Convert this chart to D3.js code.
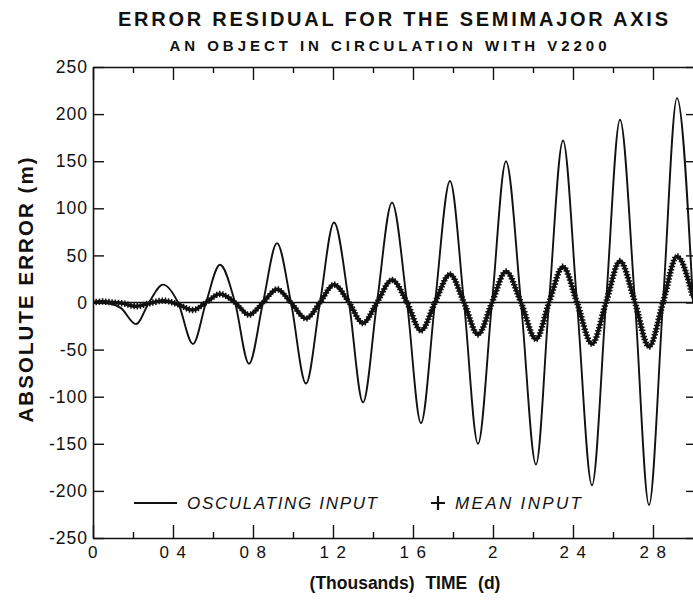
<!DOCTYPE html>
<html><head><meta charset="utf-8">
<script src="https://cdn.jsdelivr.net/npm/d3@7"></script>
<style>
body{margin:0;background:#fff}
svg{display:block}
text{font-family:"Liberation Sans",Arial,Helvetica,sans-serif;fill:#111}
</style>
</head><body>
<svg id="chart" width="693" height="603"></svg>
<script>
// ---- data ----
const timeOsc = [0, 0.08, 0.14, 0.215, 0.28, 0.35, 0.425, 0.50, 0.565, 0.635, 0.71, 0.78, 0.85, 0.92, 0.99, 1.065, 1.135, 1.205, 1.28, 1.35, 1.42, 1.495, 1.57, 1.64, 1.71, 1.785, 1.855, 1.925, 1.995, 2.065, 2.14, 2.215, 2.28, 2.35, 2.42, 2.495, 2.565, 2.635, 2.71, 2.78, 2.85, 2.92, 3.0];
const errOsc  = [0, -1, -6, -23, 0, 19, 0, -44, 0, 40, 0, -65, 0, 63, 0, -86, 0, 85, 0, -106, 0, 106, 0, -128, 0, 129, 0, -150, 0, 150, 0, -172, 0, 172, 0, -194, 0, 194, 0, -215, 0, 217, 0];

const timeMean = [0, 0.05, 0.10, 0.15, 0.215, 0.28, 0.35, 0.425, 0.50, 0.565, 0.635, 0.71, 0.78, 0.85, 0.92, 0.99, 1.065, 1.135, 1.205, 1.28, 1.35, 1.42, 1.495, 1.57, 1.64, 1.71, 1.785, 1.855, 1.925, 1.995, 2.065, 2.14, 2.215, 2.28, 2.35, 2.42, 2.495, 2.565, 2.635, 2.71, 2.78, 2.85, 2.92, 3.0];
const errMean  = [0, 1, 0, -1, -4, -1, 2, -2, -8, 0, 9, 0, -13, 0, 14, 0, -17, 0, 19, 0, -22, 0, 24, 0, -30, 0, 30, 0, -34, 0, 33, 0, -39, 0, 38, 0, -44, 0, 44, 0, -47, 0, 49, 5];

const yTicks = [250, 200, 150, 100, 50, 0, -50, -100, -150, -200, -250];
const yTickLabels = ["250", "200", "150", "100", "50", "0", "-50", "-100", "-150", "-200", "-250"];
const xMajorTicks = [0, 0.4, 0.8, 1.2, 1.6, 2.0, 2.4, 2.8];
const xTickLabels = ["0", "0 4", "0 8", "1 2", "1 6", "2", "2 4", "2 8"];
const xMinorTicks = [0.2, 0.6, 1.0, 1.4, 1.8, 2.2, 2.6];

const titleText = "ERROR RESIDUAL FOR THE SEMIMAJOR AXIS";
const subtitleText = "AN OBJECT IN CIRCULATION WITH V2200";
const yTitle = "ABSOLUTE ERROR (m)";
const xTitle = "(Thousands) TIME (d)";
const legendOsc = "OSCULATING INPUT";
const legendMean = "MEAN INPUT";

// ---- layout ----
const L = 93, R = 693, T = 67, B = 538;
const svg = d3.select("#chart");
const x = d3.scaleLinear().domain([0, 3.0]).range([L, R]);
const y = d3.scaleLinear().domain([-250, 250]).range([B, T]);

const ink = "#111";

// titles
svg.append("text").attr("x", 393).attr("y", 26).attr("text-anchor", "middle")
  .attr("font-size", 20).attr("font-weight", "bold")
  .attr("textLength", 550).attr("lengthAdjust", "spacing").text(titleText);
svg.append("text").attr("x", 388).attr("y", 51).attr("text-anchor", "middle")
  .attr("font-size", 15).attr("font-weight", "bold")
  .attr("textLength", 437).attr("lengthAdjust", "spacing").text(subtitleText);

// axes
function styleAxis(g) {
  g.selectAll("path.domain").attr("stroke", ink).attr("stroke-width", 1.6);
  g.selectAll(".tick line").attr("stroke", ink).attr("stroke-width", 1.4);
  g.selectAll(".tick text").attr("fill", ink).attr("font-family", '"Liberation Sans",Arial,sans-serif');
}

const gBottom = svg.append("g").attr("transform", `translate(0,${B})`)
  .call(d3.axisBottom(x).tickValues(xMajorTicks).tickFormat((d, i) => xTickLabels[i])
    .tickSizeInner(-13).tickSizeOuter(0).tickPadding(8));
gBottom.selectAll(".tick text").attr("font-size", 17).attr("letter-spacing", 1.5);
styleAxis(gBottom);
const gBottomMinor = svg.append("g").attr("transform", `translate(0,${B})`)
  .call(d3.axisBottom(x).tickValues(xMinorTicks).tickFormat("").tickSizeInner(-6).tickSizeOuter(0));
styleAxis(gBottomMinor); gBottomMinor.select("path.domain").remove();

const gTop = svg.append("g").attr("transform", `translate(0,${T})`)
  .call(d3.axisTop(x).tickValues(xMajorTicks).tickFormat("").tickSizeInner(-13).tickSizeOuter(0));
styleAxis(gTop);
const gTopMinor = svg.append("g").attr("transform", `translate(0,${T})`)
  .call(d3.axisTop(x).tickValues(xMinorTicks).tickFormat("").tickSizeInner(-6).tickSizeOuter(0));
styleAxis(gTopMinor); gTopMinor.select("path.domain").remove();

const gLeft = svg.append("g").attr("transform", `translate(${L},0)`)
  .call(d3.axisLeft(y).tickValues(yTicks).tickFormat((d, i) => yTickLabels[i])
    .tickSizeInner(-11).tickSizeOuter(0).tickPadding(5));
gLeft.selectAll(".tick text").attr("font-size", 17.5).attr("letter-spacing", 1);
styleAxis(gLeft);

const gRight = svg.append("g").attr("transform", `translate(${R + 1},0)`)
  .call(d3.axisRight(y).tickValues(yTicks).tickFormat("").tickSizeInner(-8).tickSizeOuter(0));
styleAxis(gRight);

// axis titles
svg.append("text").attr("transform", "translate(33,290) rotate(-90)").attr("text-anchor", "middle")
  .attr("font-size", 20.5).attr("font-weight", "bold")
  .attr("textLength", 265).attr("lengthAdjust", "spacing").text(yTitle);
svg.append("text").attr("x", 405).attr("y", 589).attr("text-anchor", "middle")
  .attr("font-size", 17.5).attr("font-weight", "bold").attr("word-spacing", 6)
  .text(xTitle);

// clip
svg.append("clipPath").attr("id", "plotclip").append("rect")
  .attr("x", L).attr("y", T).attr("width", R - L).attr("height", B - T);
const plot = svg.append("g").attr("clip-path", "url(#plotclip)");

// zero line
plot.append("line").attr("x1", x(0)).attr("x2", x(3.0)).attr("y1", y(0)).attr("y2", y(0))
  .attr("stroke", ink).attr("stroke-width", 1.5);

// series
const oscData = timeOsc.map((t, i) => [t, errOsc[i]]);
const meanData = timeMean.map((t, i) => [t, errMean[i]]);
const line = d3.line().x(d => x(d[0])).y(d => y(d[1])).curve(d3.curveMonotoneX);

plot.append("path").datum(oscData).attr("d", line)
  .attr("fill", "none").attr("stroke", ink).attr("stroke-width", 1.9);

const meanPath = plot.append("path").datum(meanData).attr("d", line)
  .attr("fill", "none").attr("stroke", ink).attr("stroke-width", 3.4);

// "+" markers along the mean curve
const node = meanPath.node();
const total = node.getTotalLength();
const plusPts = d3.range(0, total, 3.2).map(s => node.getPointAtLength(s));
const h = 3.2;
plot.append("path")
  .attr("d", plusPts.map(p => `M${p.x - h},${p.y}H${p.x + h}M${p.x},${p.y - h}V${p.y + h}`).join(""))
  .attr("stroke", ink).attr("stroke-width", 1.5).attr("fill", "none");

// legend
svg.append("line").attr("x1", 134).attr("x2", 177).attr("y1", 503).attr("y2", 503)
  .attr("stroke", ink).attr("stroke-width", 1.8);
svg.append("text").attr("x", 187).attr("y", 509).attr("font-size", 17).attr("font-style", "italic")
  .attr("textLength", 190).attr("lengthAdjust", "spacing").text(legendOsc);
svg.append("path").attr("d", "M431,503H445M438,496V510").attr("stroke", ink).attr("stroke-width", 2.2);
svg.append("text").attr("x", 455).attr("y", 509).attr("font-size", 17).attr("font-style", "italic")
  .attr("textLength", 126).attr("lengthAdjust", "spacing").text(legendMean);
</script>
</body></html>
